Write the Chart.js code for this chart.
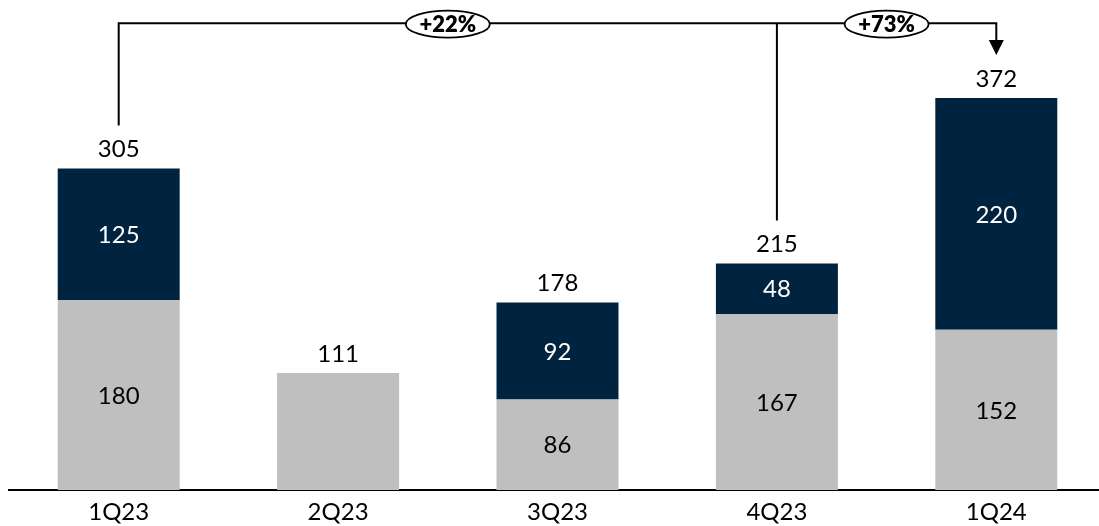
<!DOCTYPE html>
<html>
<head>
<meta charset="utf-8">
<script src="https://cdn.jsdelivr.net/npm/chart.js@4/dist/chart.umd.min.js"></script>
<style>
  html, body { margin: 0; padding: 0; background: #fff; overflow: hidden; }
  #wrap { width: 1106px; height: 526px; }
</style>
</head>
<body>
<div id="wrap"><canvas id="c" width="1106" height="526"></canvas></div>
<script>
const categories = ['1Q23', '2Q23', '3Q23', '4Q23', '1Q24'];
const grayValues = [180, 111, 86, 167, 152];
const navyValues = [125, null, 92, 48, 220];
const totals = [305, 111, 178, 215, 372];
const growthLabels = ['+22%', '+73%'];

const FONT = 'Lato, "Open Sans", sans-serif';
const NAVY = '#00233F';
const GRAY = '#BFBFBF';

const labelPlugin = {
  id: 'labels',
  afterDatasetsDraw(chart) {
    const ctx = chart.ctx;
    const x = chart.scales.x, y = chart.scales.y;
    ctx.save();
    ctx.textAlign = 'center';
    ctx.textBaseline = 'middle';
    ctx.font = '400 24px ' + FONT;
    chart.data.datasets.forEach((ds, di) => {
      const meta = chart.getDatasetMeta(di);
      meta.data.forEach((el, i) => {
        const v = ds.data[i];
        if (v == null || !(totals[i] > v)) return;
        ctx.fillStyle = ds.labelColor;
        ctx.fillText(String(v), el.x, (el.y + el.base) / 2 + 1);
      });
    });
    ctx.fillStyle = '#000';
    totals.forEach((t, i) => {
      ctx.fillText(String(t), x.getPixelForValue(i), y.getPixelForValue(t) - 19);
    });

    // growth brackets
    const topY = y.getPixelForValue(443);
    const endY = i => y.getPixelForValue(totals[i]) - 43;
    const x0 = x.getPixelForValue(0), x3 = x.getPixelForValue(3), x4 = x.getPixelForValue(4);
    ctx.strokeStyle = '#000';
    ctx.lineWidth = 2;
    ctx.beginPath();
    ctx.moveTo(x0, endY(0));
    ctx.lineTo(x0, topY);
    ctx.lineTo(x4, topY);
    ctx.lineTo(x4, endY(4) - 14);
    ctx.moveTo(x3, topY);
    ctx.lineTo(x3, endY(3));
    ctx.stroke();
    // arrow head
    ctx.fillStyle = '#000';
    ctx.beginPath();
    ctx.moveTo(x4 - 7.5, endY(4) - 15);
    ctx.lineTo(x4 + 7.5, endY(4) - 15);
    ctx.lineTo(x4, endY(4));
    ctx.closePath();
    ctx.fill();
    // ellipses
    const bubbles = [[(x0 + x3) / 2, growthLabels[0]], [(x3 + x4) / 2, growthLabels[1]]];
    bubbles.forEach(([cx, txt]) => {
      ctx.beginPath();
      ctx.ellipse(cx, topY + 1, 42, 13.5, 0, 0, Math.PI * 2);
      ctx.fillStyle = '#fff';
      ctx.fill();
      ctx.lineWidth = 1.8;
      ctx.stroke();
      ctx.fillStyle = '#000';
      ctx.font = '800 22px ' + FONT;
      ctx.fillText(txt, cx, topY + 2);
    });
    ctx.restore();
  }
};

new Chart(document.getElementById('c'), {
  type: 'bar',
  data: {
    labels: categories,
    datasets: [
      { data: grayValues, backgroundColor: GRAY, labelColor: '#000' },
      { data: navyValues, backgroundColor: NAVY, labelColor: '#fff' }
    ]
  },
  options: {
    responsive: false,
    animation: false,
    events: [],
    layout: { padding: { left: 9, right: 0, top: 0, bottom: 0 } },
    categoryPercentage: 1,
    barPercentage: 0.556,
    plugins: { legend: { display: false }, tooltip: { enabled: false } },
    scales: {
      x: {
        stacked: true,
        grid: { display: false, drawTicks: false },
        border: { display: true, color: '#000', width: 2 },
        ticks: { color: '#000', font: { family: FONT, size: 24 }, padding: 8 },
        afterFit(scale) { scale.height = 36; }
      },
      y: {
        stacked: true,
        display: false,
        min: 0,
        max: 465
      }
    }
  },
  plugins: [labelPlugin]
});
</script>
</body>
</html>
